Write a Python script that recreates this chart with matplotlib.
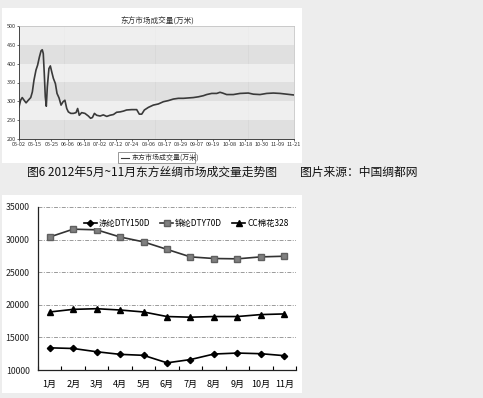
import matplotlib
matplotlib.use("Agg")
import matplotlib.pyplot as plt
from matplotlib.patches import Rectangle
from matplotlib.lines import Line2D

CJK = ['Noto Sans CJK SC', 'DejaVu Sans']
plt.rcParams['font.family'] = CJK

# ---------------- data: top chart (trading-day position, volume 万米) ----------------
top_x = [0, 0.8, 1.6, 2.5, 3.5, 4.6, 5.8, 6.6, 7.4, 8.4, 9.2, 10.1, 10.9, 11.5, 12.0, 12.5,
         13.0, 13.5, 14.0, 14.8, 15.5, 16.2, 17.0, 18.0, 18.8, 19.8, 20.8, 21.8, 22.7, 23.6,
         24.4, 25.6, 26.9, 28.2, 29.0, 29.8, 31.0, 32.6, 34.3, 35.4, 36.3, 37.3, 38.4, 40.1,
         41.7, 43.4, 45.0, 46.7, 48.3, 50.0, 51.6, 53.2, 55.7, 58.2, 59.5, 60.7, 62.0, 64.0,
         66.4, 68.9, 71.4, 73.9, 76.3, 78.8, 81.3, 83.7, 86.2, 88.7, 91.2, 92.8, 95.3, 97.8,
         99.4, 100.7, 102.7, 106.0, 109.3, 113.4, 115.9, 119.2, 122.5, 125.8, 129.1, 132.4, 135.7]
top_y = [285, 303, 310, 303, 296, 303, 310, 325, 356, 383, 396, 418, 434, 437, 427, 374,
         312, 287, 338, 387, 394, 378, 361, 347, 321, 309, 290, 299, 303, 281,
         272, 268, 268, 270, 281, 263, 270, 268, 261, 255, 257, 268, 263, 261,
         264, 260, 263, 265, 271, 272, 274, 277, 278, 278, 266, 266, 277, 284,
         290, 293, 299, 302, 306, 308, 308, 309, 310, 312, 315, 318, 321, 321,
         324, 322, 318, 318, 321, 322, 319, 318, 321, 322, 321, 319, 317]
top_dates = ['05-02', '05-15', '05-25', '06-06', '06-18', '07-02', '07-12', '07-24', '08-06',
             '08-17', '08-29', '09-07', '09-19', '10-08', '10-18', '10-30', '11-09', '11-21']
top_title = '东方市场成交量(万米)'

# ---------------- data: bottom chart (price, 元/吨) ----------------
months = ['1月', '2月', '3月', '4月', '5月', '6月', '7月', '8月', '9月', '10月', '11月']
polyester = [13400, 13300, 12800, 12400, 12250, 11100, 11600, 12450, 12600, 12500, 12200]
nylon = [30400, 31600, 31500, 30400, 29650, 28500, 27350, 27100, 27050, 27350, 27450]
cotton = [18900, 19300, 19400, 19200, 18900, 18200, 18100, 18200, 18200, 18500, 18600]
series_names = ['涤纶DTY150D', '锦纶DTY70D', 'CC棉花328']

caption_left = '图6 2012年5月~11月东方丝绸市场成交量走势图'
caption_right = '图片来源：中国绸都网'

W, H = 483, 398
fig = plt.figure(figsize=(W / 100, H / 100), dpi=100)
fig.patch.set_facecolor('#ededed')

def fx(px):
    return px / W

def fy(py):
    return 1 - py / H

# white panels (behind the axes)
fig.add_artist(Rectangle((fx(2), fy(163)), fx(300), 155 / H, transform=fig.transFigure,
                         facecolor='white', edgecolor='none', zorder=-5))
fig.add_artist(Rectangle((fx(2), fy(393)), fx(300), 198 / H, transform=fig.transFigure,
                         facecolor='white', edgecolor='none', zorder=-5))

# ---------------- top chart ----------------
ax1 = fig.add_axes([fx(19), fy(139), fx(294 - 19), (139 - 26) / H])
ax1.set_facecolor('#f0f0f0')
for lo, hi, c in [(450, 500, '#ececec'), (400, 450, '#d9d9d9'), (350, 400, '#ececec'),
                  (300, 350, '#d9d9d9'), (250, 300, '#ececec'), (200, 250, '#d9d9d9')]:
    ax1.axhspan(lo, hi, color=c, lw=0, zorder=0)
xmax = 136
for v in range(0, xmax + 1):
    ax1.axvline(v, color='white', lw=0.35, alpha=0.8, zorder=0.5)
ax1.plot(top_x, top_y, color='#3a3a3a', lw=1.2, zorder=3)
ax1.set_xlim(0, xmax)
ax1.set_ylim(200, 500)
ax1.set_yticks(range(200, 501, 50))
ax1.set_xticks([i * xmax / (len(top_dates) - 1) for i in range(len(top_dates))])
ax1.set_xticklabels(top_dates)
ax1.tick_params(axis='both', labelsize=4, length=1.5, width=0.5, pad=1, colors='#333333')
for s in ['top', 'right']:
    ax1.spines[s].set_color('#bbbbbb')
    ax1.spines[s].set_linewidth(0.5)
for s in ['left', 'bottom']:
    ax1.spines[s].set_color('#444444')
    ax1.spines[s].set_linewidth(0.7)
fig.text(fx(157), fy(21), top_title, ha='center', va='center', fontsize=5.5, color='#333333')
# legend box of top chart
fig.add_artist(Rectangle((fx(118), fy(163)), fx(77), 11 / H, transform=fig.transFigure,
                         facecolor='white', edgecolor='#888888', lw=0.6, zorder=2))
fig.add_artist(Line2D([fx(121), fx(129)], [fy(157.5), fy(157.5)], transform=fig.transFigure,
                      color='#3a3a3a', lw=0.8, zorder=3))
fig.text(fx(131), fy(157.5), top_title, ha='left', va='center', fontsize=5, color='#333333')

# caption
fig.text(fx(27), fy(172), caption_left, ha='left', va='center', fontsize=8.5, color='#111111')
fig.text(fx(300), fy(172), caption_right, ha='left', va='center', fontsize=8.5, color='#111111')

# ---------------- bottom chart ----------------
ax2 = fig.add_axes([fx(38), fy(370), fx(296 - 38), (370 - 207) / H])
ax2.set_facecolor('white')
xs = list(range(len(months)))
ax2.set_xlim(-0.5, len(months) - 0.5)
ax2.set_ylim(10000, 35000)
for v in range(15000, 35001, 5000):
    ax2.axhline(v, color='#9a9a9a', lw=0.7, ls=(0, (4, 1.5, 1, 1.5)), zorder=1)
l1, = ax2.plot(xs, polyester, color='black', lw=1.2, marker='D', ms=3.2, mfc='black', mec='black', zorder=3)
l2, = ax2.plot(xs, nylon, color='#333333', lw=1.2, marker='s', ms=4, mfc='#808080', mec='#606060', zorder=3)
l3, = ax2.plot(xs, cotton, color='black', lw=1.2, marker='^', ms=4, mfc='black', mec='black', zorder=3)
ax2.set_yticks(range(10000, 35001, 5000))
ax2.set_xticks(xs)
ax2.set_xticklabels(months)
ax2.set_xticks([i - 0.5 for i in range(len(months) + 1)], minor=True)
ax2.tick_params(axis='x', which='major', length=0, labelsize=6.5, pad=7)
ax2.tick_params(axis='x', which='minor', direction='in', length=3, width=0.8)
ax2.tick_params(axis='y', labelsize=6.3, length=0, pad=6, colors='#222222')
for s in ['top', 'right']:
    ax2.spines[s].set_visible(False)
for s in ['left', 'bottom']:
    ax2.spines[s].set_linewidth(0.9)
    ax2.spines[s].set_color('#222222')
leg = ax2.legend([l1, l2, l3], series_names, loc='center', bbox_to_anchor=(fx(186), fy(223)),
                 bbox_transform=fig.transFigure, ncol=3, frameon=True, fontsize=6.0,
                 handlelength=1.6, handletextpad=0.2, columnspacing=1.2, borderpad=0.1)
leg.get_frame().set_facecolor('white')
leg.get_frame().set_edgecolor('none')
leg.get_frame().set_alpha(1.0)

fig.savefig('out.png', dpi=100, facecolor=fig.get_facecolor())
